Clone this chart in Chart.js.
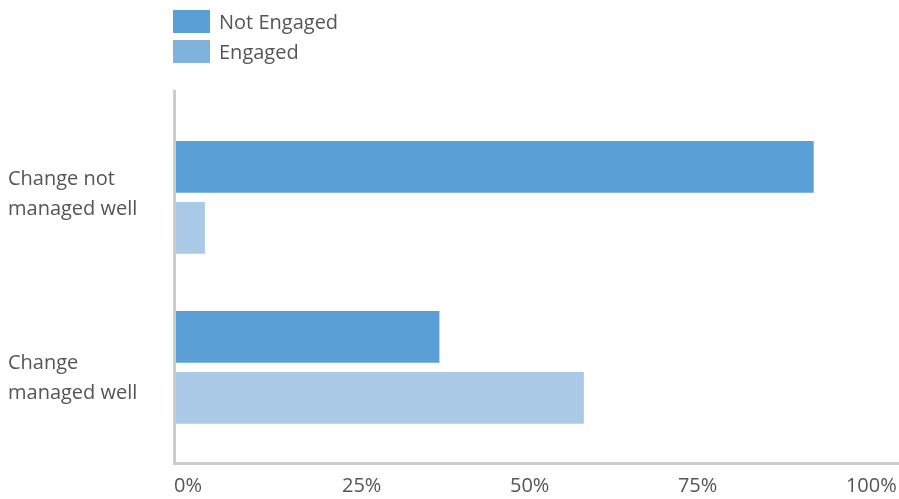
<!DOCTYPE html>
<html>
<head>
<meta charset="utf-8">
<script src="https://cdn.jsdelivr.net/npm/chart.js@4"></script>
<style>
  html, body { margin: 0; padding: 0; background: #fff; }
  #wrap { position: relative; width: 899px; height: 499px; }
  #legend { position: absolute; left: 173px; top: 10px; font-family: "Open Sans", sans-serif; font-size: 20px; color: #555; }
  .item { display: flex; align-items: center; height: 23px; margin-bottom: 7px; }
  .swatch { width: 37px; height: 23px; margin-right: 9px; }
</style>
</head>
<body>
<div id="wrap">
  <canvas id="chart" width="899" height="499"></canvas>
  <div id="legend"></div>
</div>
<script>
// Engagement vs change management
const categories = [["Change not", "managed well"], ["Change", "managed well"]];
const notEngaged = [95.2, 39.5];
const engaged = [4.6, 61];
const xTicks = [0, 25, 50, 75, 100];

const series = [
  { name: "Not Engaged", data: notEngaged, color: "#5a9fd5", legendColor: "#5a9fd5" },
  { name: "Engaged", data: engaged, color: "#a9c9e7", legendColor: "#80b2de" },
];

const FONT = { family: "'Open Sans', sans-serif", size: 20 };
const GREY = "#555";

// legend
const legend = document.getElementById("legend");
series.forEach((s) => {
  const row = document.createElement("div");
  row.className = "item";
  row.innerHTML = `<span class="swatch" style="background:${s.legendColor}"></span><span>${s.name}</span>`;
  legend.appendChild(row);
});

new Chart(document.getElementById("chart"), {
  type: "bar",
  data: {
    datasets: series.map((s) => ({
      label: s.name,
      data: s.data.map((v, i) => ({ x: v, y: i })),
      backgroundColor: s.color,
      borderWidth: 0,
      categoryPercentage: 0.718,
      barPercentage: 0.848,
      yAxisID: "y",
    })),
  },
  options: {
    indexAxis: "y",
    responsive: false,
    animation: false,
    layout: { padding: { left: 8, top: 91, right: 0, bottom: 0 } },
    plugins: { legend: { display: false }, tooltip: { enabled: false } },
    scales: {
      x: {
        type: "linear",
        min: 0,
        max: 107.9,
        afterBuildTicks: (s) => { s.ticks = xTicks.map((v) => ({ value: v })); },
        afterFit: (s) => { s.height = 36; },
        grid: { drawOnChartArea: false, drawTicks: true, tickLength: 11, color: "transparent" },
        border: { display: true, color: "#cccccc", width: 3, z: 1 },
        ticks: {
          align: "start",
          padding: 0,
          autoSkip: false,
          maxRotation: 0,
          color: GREY,
          font: FONT,
          callback: (v) => v + "%",
        },
      },
      // bars sit on their own hidden index axis
      y: {
        type: "linear",
        display: false,
        offset: false,
        bounds: "data",
        reverse: true,
        min: -0.6256,
        max: 1.5627,
        afterBuildTicks: (s) => { s.ticks = categories.map((c, i) => ({ value: i })); },
      },
      yl: {
        type: "linear",
        position: "left",
        offset: false,
        bounds: "data",
        reverse: true,
        min: -0.561,
        max: 1.461,
        afterBuildTicks: (s) => { s.ticks = categories.map((c, i) => ({ value: i })); },
        afterFit: (s) => { s.width = 166; },
        grid: { display: false },
        border: { display: true, color: "#cccccc", width: 3, z: 1 },
        ticks: {
          crossAlign: "far",
          color: GREY,
          font: { ...FONT, lineHeight: 1.5 },
          autoSkip: false,
          callback: (v) => categories[v],
        },
      },
    },
  },
});
</script>
</body>
</html>
